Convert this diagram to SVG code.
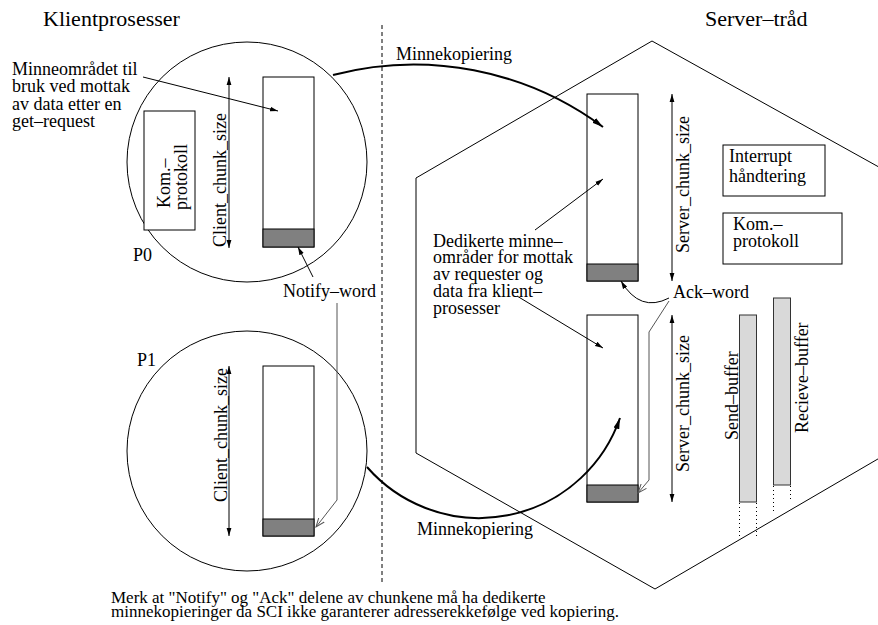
<svg xmlns="http://www.w3.org/2000/svg" width="878" height="625" viewBox="0 0 878 625">
  <defs>
    <style>
      text { font-family: "Liberation Serif", "Times New Roman", serif; fill: #000; }
      .title { font-size: 22px; }
      .lbl { font-size: 18px; }
      .note { font-size: 17px; }
      .ln { fill: none; stroke: #000; stroke-width: 1; }
      .thick { fill: none; stroke: #000; stroke-width: 2; }
      .grayln { fill: none; stroke: #555; stroke-width: 1; }
      .box { fill: #fff; stroke: #000; stroke-width: 1; }
      .word { fill: #808080; stroke: #000; stroke-width: 1; }
      .buf { fill: #d9d9d9; stroke: #333; stroke-width: 1; }
      .dots { fill: none; stroke: #000; stroke-width: 1; stroke-dasharray: 1 3; }
      .dash { fill: none; stroke: #000; stroke-width: 1; stroke-dasharray: 4 3; }
    </style>
    <marker id="bigHead" markerUnits="userSpaceOnUse" viewBox="0 0 12 8" markerWidth="12" markerHeight="8" refX="11" refY="4" orient="auto">
      <path d="M0,1 L11,4 L0,7 z" fill="#000"/>
    </marker>
    <marker id="head" markerUnits="userSpaceOnUse" viewBox="0 0 8 6" markerWidth="8" markerHeight="6" refX="8" refY="3" orient="auto-start-reverse">
      <path d="M0,0.6 L8,3 L0,5.4 z" fill="#000"/>
    </marker>
    <marker id="openHead" markerUnits="userSpaceOnUse" viewBox="0 0 10 8" markerWidth="10" markerHeight="8" refX="9" refY="4" orient="auto">
      <path d="M0,0.5 L9,4 L0,7.5" fill="none" stroke="#555" stroke-width="1"/>
    </marker>
  </defs>

  <rect width="878" height="625" fill="#fff"/>

  <!-- section titles and divider -->
  <g id="titles">
    <text class="title" x="43" y="26">Klientprosesser</text>
    <text class="title" x="705" y="26">Server–tråd</text>
    <line class="dash" x1="382" y1="25" x2="382" y2="583"/>
  </g>

  <!-- server thread outline -->
  <g id="server">
    <polygon class="ln" points="652,41 416,178 416,453 655,589 895,449 895,176"/>
  </g>

  <!-- client process P0 -->
  <g id="p0">
    <circle class="ln" cx="247" cy="162" r="120"/>
    <text class="lbl" x="133" y="261">P0</text>
    <rect class="box" x="144" y="111" width="51" height="119"/>
    <text class="lbl" transform="translate(170,208) rotate(-90)">Kom.–</text>
    <text class="lbl" transform="translate(187,210) rotate(-90)">protokoll</text>
    <text class="lbl" transform="translate(226,247) rotate(-90)">Client_chunk_size</text>
    <rect class="box" x="263" y="77" width="51" height="170"/>
    <rect class="word" x="263" y="229" width="51" height="18"/>
  </g>

  <!-- client process P1 -->
  <g id="p1">
    <circle class="ln" cx="247" cy="451" r="120"/>
    <text class="lbl" x="137" y="366">P1</text>
    <text class="lbl" transform="translate(227,502) rotate(-90)">Client_chunk_size</text>
    <rect class="box" x="263" y="366" width="51" height="170"/>
    <rect class="word" x="263" y="519" width="51" height="17"/>
  </g>

  <!-- server chunks -->
  <g id="server-chunk-top">
    <rect class="box" x="587" y="94" width="51" height="187"/>
    <rect class="word" x="587" y="264" width="51" height="17"/>
    <text class="lbl" transform="translate(689,253) rotate(-90)">Server_chunk_size</text>
  </g>
  <g id="server-chunk-bottom">
    <rect class="box" x="587" y="315" width="51" height="187"/>
    <rect class="word" x="587" y="485" width="51" height="17"/>
    <text class="lbl" transform="translate(689,472) rotate(-90)">Server_chunk_size</text>
  </g>

  <!-- server side modules -->
  <g id="interrupt">
    <rect class="box" x="723" y="145" width="102" height="51"/>
    <text class="lbl" x="729" y="162">Interrupt</text>
    <text class="lbl" x="729" y="182">håndtering</text>
  </g>
  <g id="kom-server">
    <rect class="box" x="723" y="213" width="119" height="51"/>
    <text class="lbl" x="733" y="230">Kom.–</text>
    <text class="lbl" x="733" y="247">protokoll</text>
  </g>

  <!-- buffers -->
  <g id="send-buffer">
    <rect class="buf" x="739.5" y="315" width="17" height="187"/>
    <line class="dots" x1="739.5" y1="503" x2="739.5" y2="537"/>
    <line class="dots" x1="756.5" y1="503" x2="756.5" y2="537"/>
    <text class="lbl" transform="translate(738,440) rotate(-90)">Send–buffer</text>
  </g>
  <g id="recieve-buffer">
    <rect class="buf" x="773.5" y="298" width="17" height="187"/>
    <line class="dots" x1="773.5" y1="486" x2="773.5" y2="512"/>
    <line class="dots" x1="790.5" y1="486" x2="790.5" y2="499"/>
    <text class="lbl" transform="translate(808,433) rotate(-90)">Recieve–buffer</text>
  </g>

  <!-- annotations -->
  <g id="notes">
    <text class="lbl" x="12" y="75">Minneområdet til</text>
    <text class="lbl" x="12" y="92">bruk ved mottak</text>
    <text class="lbl" x="12" y="110">av data etter en</text>
    <text class="lbl" x="12" y="127">get–request</text>
    <text class="lbl" x="433" y="247">Dedikerte minne–</text>
    <text class="lbl" x="433" y="263">områder for mottak</text>
    <text class="lbl" x="433" y="280">av requester og</text>
    <text class="lbl" x="433" y="297">data fra klient–</text>
    <text class="lbl" x="433" y="314">prosesser</text>
    <text class="lbl" x="283" y="297">Notify–word</text>
    <text class="lbl" x="673" y="298">Ack–word</text>
    <text class="lbl" x="396" y="60">Minnekopiering</text>
    <text class="lbl" x="417" y="535">Minnekopiering</text>
    <text class="note" x="111" y="603">Merk at "Notify" og "Ack" delene av chunkene må ha dedikerte</text>
    <text class="note" x="111" y="617">minnekopieringer da SCI ikke garanterer adresserekkefølge ved kopiering.</text>
  </g>

  <!-- connectors -->
  <g id="connectors">
    <path class="thick" d="M333,75 A318,318 0 0 1 603,127" marker-end="url(#bigHead)"/>
    <path class="thick" d="M367,467 A149,149 0 0 0 620,418" marker-end="url(#bigHead)"/>
    <path class="ln" d="M229,77 L229,248" marker-start="url(#head)" marker-end="url(#head)"/>
    <path class="ln" d="M229,366 L229,536" marker-start="url(#head)" marker-end="url(#head)"/>
    <path class="ln" d="M672,94 L672,281" marker-start="url(#head)" marker-end="url(#head)"/>
    <path class="ln" d="M672,315 L672,502" marker-start="url(#head)" marker-end="url(#head)"/>
    <path class="ln" d="M143,77 L278,111" marker-end="url(#head)"/>
    <path class="ln" d="M535,230 L603,179" marker-end="url(#head)"/>
    <path class="ln" d="M517,296 L603,348" marker-end="url(#head)"/>
    <path class="ln" d="M313,277 L298,247" marker-end="url(#head)"/>
    <path class="grayln" d="M337,303 L337,500 L316,527" marker-end="url(#openHead)"/>
    <path class="ln" d="M669,298 Q640,313 621,281" marker-end="url(#head)"/>
    <path class="grayln" d="M669,301 L649,332 L649,480 L638,493" marker-end="url(#openHead)"/>
  </g>
</svg>
